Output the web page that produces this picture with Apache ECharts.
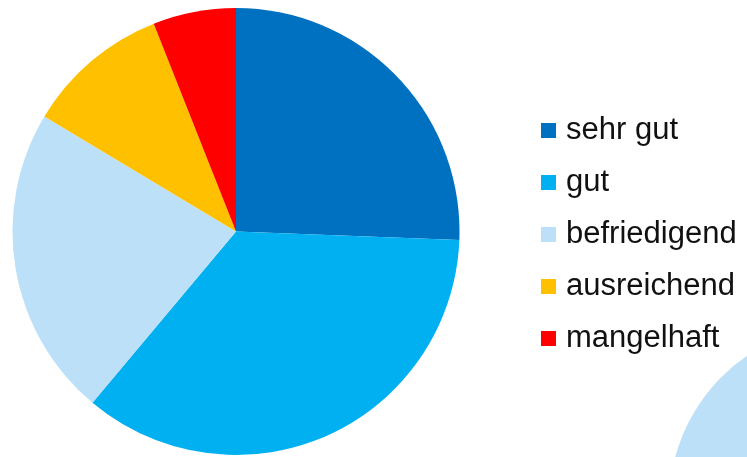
<!DOCTYPE html>
<html>
<head>
<meta charset="utf-8">
<script src="https://cdn.jsdelivr.net/npm/echarts@6/dist/echarts.min.js"></script>
<style>
  html, body { margin: 0; padding: 0; background: #ffffff; }
  #chart { width: 747px; height: 457px; }
</style>
</head>
<body>
<div id="chart"></div>
<script>
// Grade categories and their shares (percent)
const grades = ['sehr gut', 'gut', 'befriedigend', 'ausreichend', 'mangelhaft'];
const shares = [25.6, 35.5, 22.5, 10.4, 6.0];
const gradeColors = ['#0070C0', '#00B0F0', '#BDE0F9', '#FFC000', '#FF0000'];

// Neighbouring pie at the lower right edge (only its befriedigend slice shows)
const nextPieGrades = ['befriedigend'];
const nextPieShares = [100];

const chart = echarts.init(document.getElementById('chart'), null, { renderer: 'canvas' });

chart.setOption({
  animation: false,
  backgroundColor: '#ffffff',
  legend: {
    data: grades,
    orient: 'vertical',
    left: 541,
    top: 115,
    padding: 0,
    icon: 'rect',
    itemWidth: 15,
    itemHeight: 15,
    itemGap: 21,
    selectedMode: false,
    textStyle: {
      fontFamily: 'Liberation Sans, Arial, sans-serif',
      fontSize: 31,
      lineHeight: 30,
      color: '#111111',
      padding: [0, 0, 0, 5]
    }
  },
  series: [
    {
      type: 'pie',
      center: [236, 231.5],
      radius: [0, 223.5],
      startAngle: 90,
      clockwise: true,
      label: { show: false },
      labelLine: { show: false },
      emphasis: { disabled: true },
      itemStyle: { borderWidth: 0 },
      data: grades.map((g, i) => ({ name: g, value: shares[i], itemStyle: { color: gradeColors[i] } }))
    },
    {
      type: 'pie',
      center: [849, 504],
      radius: [0, 180],
      label: { show: false },
      labelLine: { show: false },
      emphasis: { disabled: true },
      itemStyle: { borderWidth: 0 },
      data: nextPieGrades.map((g, i) => ({
        name: g,
        value: nextPieShares[i],
        itemStyle: { color: gradeColors[grades.indexOf(g)] }
      }))
    }
  ]
});
</script>
</body>
</html>
